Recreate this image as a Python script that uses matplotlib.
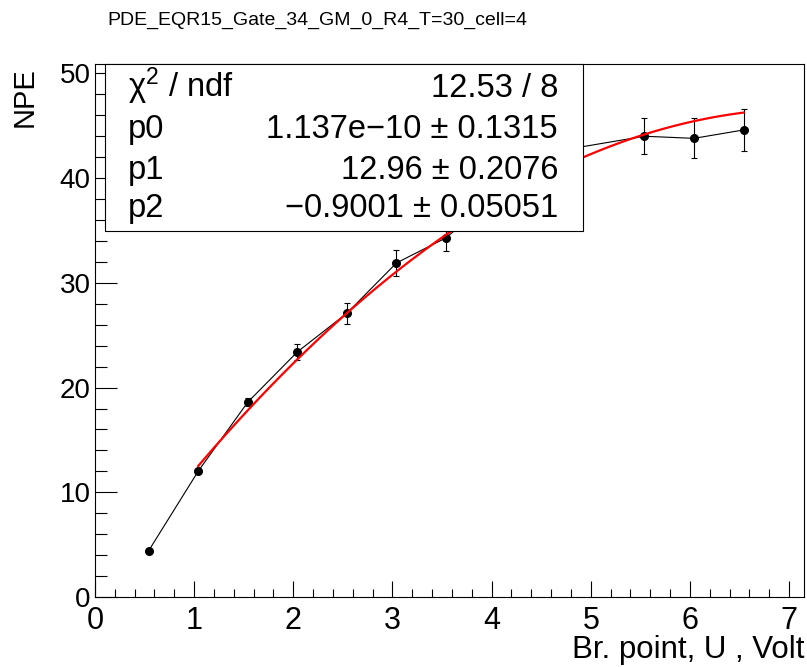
import numpy as np
import matplotlib
matplotlib.use("Agg")
import matplotlib.pyplot as plt
from matplotlib.patches import Rectangle
from matplotlib.ticker import MultipleLocator

plt.rcParams['font.family'] = ['Liberation Sans', 'DejaVu Sans']
plt.rcParams['mathtext.fontset'] = 'custom'
plt.rcParams['mathtext.rm'] = 'Liberation Sans'
plt.rcParams['mathtext.it'] = 'Liberation Sans'

# data
voltage = [0.54, 1.04, 1.54, 2.04, 2.54, 3.04, 3.54, 4.04, 4.54, 5.54, 6.04, 6.54]
npe = [4.4, 12.0, 18.6, 23.4, 27.1, 31.9, 34.3, 38.3, 42.4, 44.0, 43.8, 44.6]
npe_err = [0.15, 0.2, 0.4, 0.75, 1.0, 1.2, 1.3, 1.4, 1.7, 1.7, 1.9, 2.0]

# fit results (pol2)
p0, p1, p2 = 1.137e-10, 12.96, -0.9001
fit_range = (1.04, 6.54)
stat_names = ["\u03c7$^{2}$ / ndf", "p0", "p1", "p2"]
stat_values = ["12.53 / 8", "1.137e\u221210 \u00b1 0.1315",
               "12.96 \u00b1 0.2076", "\u22120.9001 \u00b1 0.05051"]

fig = plt.figure(figsize=(8.07, 6.67), dpi=100)
ax = fig.add_axes([95 / 807, 1 - 597 / 667, 709 / 807, 533 / 667])

ax.plot(voltage, npe, color='black', lw=0.8, zorder=2)
ax.errorbar(voltage, npe, yerr=npe_err, fmt='o', color='black', ms=5.5,
            elinewidth=0.8, capsize=2.5, capthick=0.8, zorder=3)

xf = np.linspace(fit_range[0], fit_range[1], 200)
ax.plot(xf, p0 + p1 * xf + p2 * xf ** 2, color='red', lw=1.6, zorder=4)

ax.set_xlim(0, 7.15)
ax.set_ylim(0, 50.9)
ax.xaxis.set_major_locator(MultipleLocator(1))
ax.xaxis.set_minor_locator(MultipleLocator(0.2))
ax.yaxis.set_major_locator(MultipleLocator(10))
ax.yaxis.set_minor_locator(MultipleLocator(2))
ax.tick_params(axis='x', which='both', direction='in', top=False)
ax.tick_params(axis='y', which='both', direction='in', right=False)
ax.tick_params(axis='x', which='major', length=11.5, width=0.8, labelsize=22, pad=6.5)
ax.tick_params(axis='x', which='minor', length=5.5, width=0.8)
ax.tick_params(axis='y', which='major', length=16, width=0.8, labelsize=20, pad=3)
ax.tick_params(axis='y', which='minor', length=8.4, width=0.8)
for s in ax.spines.values():
    s.set_linewidth(0.8)

# stats box
box = Rectangle((0.014, 0.687), 0.674, 0.313, transform=ax.transAxes,
                facecolor='white', edgecolor='black', lw=0.8, zorder=10, clip_on=False)
ax.add_patch(box)
rows_y = [0.938, 0.861, 0.784, 0.713]
for name, val, yy in zip(stat_names, stat_values, rows_y):
    ax.text(0.0465, yy, name, transform=ax.transAxes, fontsize=23.5,
            ha='left', va='baseline', zorder=11)
    ax.text(0.653, yy, val, transform=ax.transAxes, fontsize=23.5,
            ha='right', va='baseline', zorder=11)

fig.text(107 / 807, 1 - 20.5 / 667, "PDE_EQR15_Gate_34_GM_0_R4_T=30_cell=4",
         fontsize=14, ha='left', va='center')
fig.text(25 / 807, 1 - 67 / 667, "NPE", rotation=90, fontsize=21,
         ha='center', va='top')
fig.text(805 / 807, 1 - 658 / 667, "Br. point, U , Volt", fontsize=22.5,
         ha='right', va='baseline')

fig.savefig("out.png", dpi=100)
